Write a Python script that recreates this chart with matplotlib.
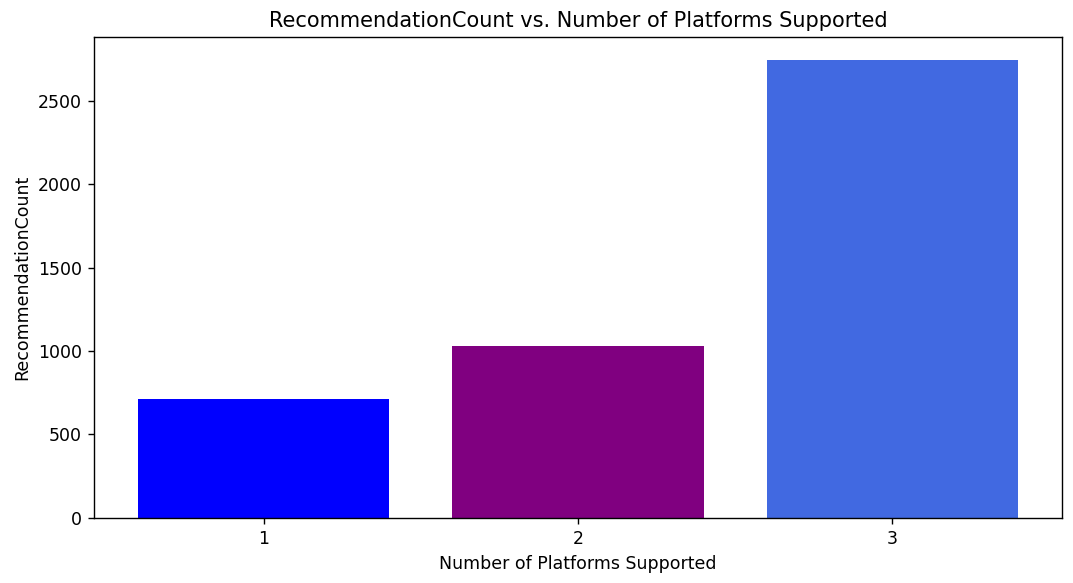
import matplotlib
matplotlib.use("Agg")
import matplotlib.pyplot as plt

platforms = [1, 2, 3]
recommendation_count = [712, 1027, 2745]
colors = ["blue", "purple", "royalblue"]

dpi = 125
fig = plt.figure(figsize=(1073 / dpi, 583 / dpi), dpi=dpi)
ax = fig.add_axes([0.0876, 0.112, 0.9021, 0.8245])
ax.bar(platforms, recommendation_count, color=colors)
ax.set_xticks(platforms)
ax.set_xlabel("Number of Platforms Supported")
ax.set_ylabel("RecommendationCount")
ax.set_title("RecommendationCount vs. Number of Platforms Supported")
fig.savefig("out.png", dpi=dpi)
